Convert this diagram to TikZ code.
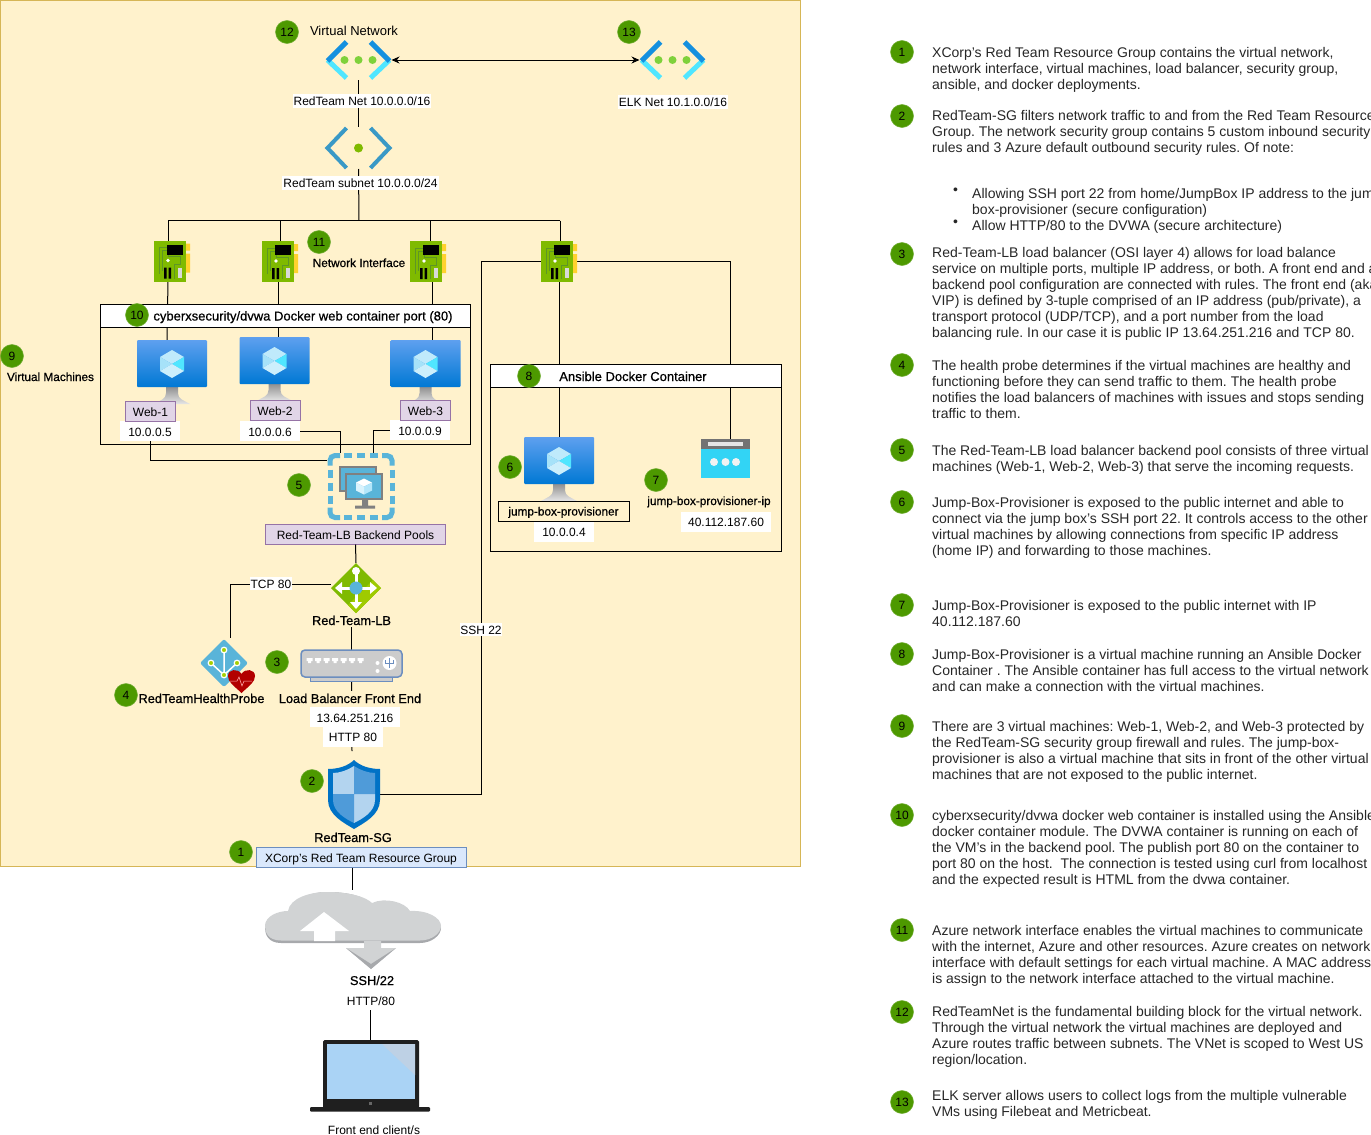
\documentclass[tikz,border=0pt]{standalone}
\usepackage{fontspec}
\setmainfont{Liberation Sans}
\newfontfamily\semibold[FakeBold=0.6]{Liberation Sans}
\usetikzlibrary{arrows.meta}
\definecolor{paneYellow}{HTML}{FFF2CC}
\definecolor{paneEdge}{HTML}{D6B656}
\definecolor{badgeGreen}{HTML}{4D9900}
\definecolor{lilacFill}{HTML}{E1D5E7}
\definecolor{lilacEdge}{HTML}{9673A6}
\definecolor{azureFill}{HTML}{DAE8FC}
\definecolor{azureEdge}{HTML}{6C8EBF}
\definecolor{skyBlue}{HTML}{59B4D9}
\definecolor{leafGreen}{HTML}{7FBA00}
\definecolor{darkLeaf}{HTML}{5E9624}
\definecolor{cloudGrey}{HTML}{D1D3D4}
\definecolor{cloudEdge}{HTML}{A7A9AC}
\definecolor{vnetDark}{HTML}{1490DF}
\definecolor{vnetLight}{HTML}{50E6FF}
\definecolor{vnetDot}{HTML}{7FD13B}
\definecolor{subnetBlue}{HTML}{3999C6}
\definecolor{nicYellow}{HTML}{FFD22E}
\definecolor{screenTop}{HTML}{5EA0EF}
\definecolor{screenLow}{HTML}{0078D4}
\definecolor{shieldBlue}{HTML}{0072C6}
\definecolor{shieldPale}{HTML}{B3D4EF}
\definecolor{shieldMid}{HTML}{4F9BD9}
\definecolor{ipCyan}{HTML}{32D4F5}
\definecolor{screenSky}{HTML}{AAD3F5}
\definecolor{screenGlare}{HTML}{BED1E5}
\tikzset{
  badge/.style={circle, fill=badgeGreen, draw=badgeGreen!80!white, line width=0.5pt, minimum size=23pt, inner sep=0pt, font=\fontsize{12}{12}\selectfont},
  iconbox/.style={inner sep=0pt, outer sep=0pt},
  wire/.style={line width=1pt, draw=black},
  panel/.style={draw=black, line width=1pt, inner sep=0pt},
  titlebar/.style={panel, fill=white, text height=11pt, text depth=1pt, font=\semibold\fontsize{13}{13}\selectfont},
  plain/.style={inner sep=0pt, text height=11pt, text depth=1pt, font=\fontsize{12}{12}\selectfont},
  strong/.style={plain, text height=10pt, text depth=2pt, font=\semibold\fontsize{12.8}{13}\selectfont},
  smallstrong/.style={plain, text height=10pt, text depth=2pt, font=\semibold\fontsize{11.8}{12}\selectfont},
  whitetag/.style={plain, fill=white, inner sep=1pt},
  iptag/.style={plain, fill=white, minimum width=60pt, minimum height=20pt},
  lilactag/.style={plain, fill=lilacFill, draw=lilacEdge, line width=1pt, minimum height=20pt},
  note/.style={anchor=north west, align=left, inner sep=0pt, text=black!85, font=\fontsize{14}{16}\selectfont},
  vmicon/.pic={
    \shade[top color=black!45, bottom color=black!10] (29,46) -- (41,46) -- (41,53) .. controls (41,59) and (46,60) .. (53,64) -- (17,64) .. controls (24,60) and (29,59) .. (29,53) -- cycle;
    \shade[rounded corners=1pt, top color=screenTop, bottom color=screenLow] (0,0) rectangle (70,47);
    \fill[cyan!25] (35,10) -- (47,17) -- (35,24) -- (23,17) -- cycle;
    \fill[vnetLight] (35,24) -- (47,17) -- (47,31) -- cycle;
    \fill[cyan!35!white] (35,24) -- (23,17) -- (23,31) -- cycle;
    \fill[cyan!20!white] (35,24) -- (47,31) -- (35,38) -- (23,31) -- cycle;
  },
  vneticon/.pic={
    \draw[line width=5pt, vnetLight] (-31,0) -- (-12,18) (31,0) -- (12,18);
    \draw[line width=5pt, vnetDark] (-31,1) -- (-12,-18) (31,1) -- (12,-18);
    \fill[vnetDot] (-14,0) circle (4) (0,0) circle (4) (14,0) circle (4);
  },
  subneticon/.pic={
    \draw[line width=4pt, subnetBlue, line join=miter] (-12,-20) -- (-31,0) -- (-12,20) (12,-20) -- (31,0) -- (12,20);
    \fill[leafGreen] (0,0) circle (4.5);
  },
  nicicon/.pic={
    \fill[leafGreen] (0,0) rectangle (32,41);
    \fill[nicYellow] (32,3) rectangle (36,10) (32,13) rectangle (36,32);
    \draw[darkLeaf, line width=1pt] (5,33) -- (5,7) -- (14,7) (8,30) -- (8,10) -- (14,10) -- (14,16) -- (26,16) -- (26,24) -- (20,24) -- (20,38);
    \fill[black] (13,4) rectangle (29,14);
    \fill[black] (10,27) rectangle (12.5,38) (14.5,27) rectangle (17,38);
    \fill[white] (14,20) circle (1.8);
    \fill[white!85!black] (24,27) rectangle (28,37);
  },
  poolicon/.pic={
    \draw[skyBlue, line width=5pt, rounded corners=5pt] (-31,-21) -- (-31,-31) -- (-21,-31) (21,-31) -- (31,-31) -- (31,-21) (31,21) -- (31,31) -- (21,31) (-21,31) -- (-31,31) -- (-31,21);
    \foreach \dashpos in {-17,-4,9} {
      \draw[skyBlue, line width=5pt] (\dashpos,-31) -- (\dashpos+8,-31) (\dashpos,31) -- (\dashpos+8,31);
      \draw[skyBlue, line width=5pt] (-31,\dashpos) -- (-31,\dashpos+8) (31,\dashpos) -- (31,\dashpos+8);
    }
    \fill[black!50] (-22,-21) rectangle (16,5);
    \fill[skyBlue] (-20,-19) rectangle (14,3);
    \fill[black!50] (-16,-14) rectangle (22,13);
    \fill[skyBlue] (-14,-12) rectangle (20,11);
    \fill[black!50] (1,13) rectangle (7,19) (-6,19) rectangle (14,22);
    \fill[white] (3,-8) -- (11,-4) -- (3,0) -- (-5,-4) -- cycle;
    \fill[cyan!30!white] (3,0) -- (11,-4) -- (11,4) -- (3,8) -- cycle;
    \fill[cyan!15!white] (3,0) -- (-5,-4) -- (-5,4) -- (3,8) -- cycle;
  },
  balancericon/.pic={
    \fill[leafGreen] (0,-25) -- (25,0) -- (0,25) -- (-25,0) -- cycle;
    \fill[leafGreen!75!yellow] (25,0) -- (0,25) -- (-8,17) -- (17,-8) -- cycle;
    \draw[white, line width=3pt] (-18,0) -- (18,0) (0,-17) -- (0,18);
    \fill[white] (-21,0) -- (-14,-6) -- (-14,6) -- cycle (21,0) -- (14,-6) -- (14,6) -- cycle (0,21) -- (-6,14) -- (6,14) -- cycle (0,-17) circle (4);
    \fill[skyBlue] (0,0) circle (6.5);
  },
  probeicon/.pic={
    \fill[skyBlue, rounded corners=2pt] (0,-24) -- (24,0) -- (0,24) -- (-24,0) -- cycle;
    \draw[white, line width=1.5pt] (0,-13) -- (0,12) (-13,0) -- (0,12) -- (13,0);
    \foreach \dotx/\doty in {0/-13,-13/0,13/0,0/12}
      \draw[white, fill=leafGreen!70!yellow, line width=1.2pt] (\dotx,\doty) circle (2.8);
    \fill[red!70!black] (17.5,30) .. controls (9,22) and (4,19) .. (4,13) .. controls (4,6) and (14,5) .. (17.5,11) .. controls (21,5) and (31,6) .. (31,13) .. controls (31,19) and (26,22) .. (17.5,30) -- cycle;
    \draw[red!30!white, line width=0.5pt] (6,18) -- (13,18) -- (15,14) -- (18,23) -- (20,18) -- (28,18);
  },
  fronticon/.pic={
    \draw[azureEdge, fill=black!20, line width=1pt] (-41,27) rectangle (41,31);
    \draw[azureEdge, fill=black!20, line width=1.5pt, rounded corners=4pt] (-50.5,0) rectangle (50.5,27);
    \foreach \portx in {-45,-36.5,...,14}
      \fill[white] (\portx,8) rectangle (\portx+6,11) (\portx+1.5,11) rectangle (\portx+4.5,13);
    \fill[white] (26,13) circle (2) (26,21) circle (2) (38,13) circle (7);
    \draw[azureEdge, line width=1pt] (38,8) -- (38,18) (34,10) -- (34,13) -- (42,13) -- (42,10);
  },
  shieldicon/.pic={
    \fill[shieldBlue] (0,0) .. controls (6,6) and (16,9) .. (26,9) -- (26,40) .. controls (26,55) and (10,63) .. (0,69) .. controls (-10,63) and (-26,55) .. (-26,40) -- (-26,9) .. controls (-16,9) and (-6,6) .. (0,0) -- cycle;
    \begin{scope}
      \clip (0,6) .. controls (6,10) and (14,13) .. (21,13) -- (21,40) .. controls (21,52) and (8,59) .. (0,63) .. controls (-8,59) and (-21,52) .. (-21,40) -- (-21,13) .. controls (-14,13) and (-6,10) .. (0,6) -- cycle;
      \fill[shieldPale] (-26,0) rectangle (0,34) (0,34) rectangle (26,69);
      \fill[shieldMid] (0,0) rectangle (26,34) (-26,34) rectangle (0,69);
    \end{scope}
  },
  publicipicon/.pic={
    \fill[ipCyan] (0,0) rectangle (49,39);
    \fill[black!55] (0,0) rectangle (49,10);
    \fill[black!10] (7,3) rectangle (42,7);
    \fill[black!5] (13,23) circle (4) (24.5,23) circle (4) (35,23) circle (4);
  },
  cloudicon/.pic={
    \path[fill=cloudEdge] (281,943) .. controls (268,943) and (265,934) .. (265,928) .. controls (265,918) and (278,913) .. (288,913) .. controls (290,900) and (310,892) .. (327,892) .. controls (350,892) and (366,897) .. (372,905) .. controls (385,899) and (405,904) .. (410,913) .. controls (428,912) and (441,920) .. (441,928) .. controls (441,935) and (432,943) .. (420,943) -- cycle;
    \path[fill=cloudGrey] (281,940.5) .. controls (268,940.5) and (265,932) .. (265,926) .. controls (265,916) and (278,911) .. (288,911) .. controls (290,898) and (310,892) .. (327,892) .. controls (350,892) and (366,897) .. (372,903) .. controls (385,897) and (405,902) .. (410,911) .. controls (428,910) and (441,918) .. (441,926) .. controls (441,933) and (432,940.5) .. (420,940.5) -- cycle;
    \fill[white] (324,912) -- (349,931) -- (335,931) -- (335,941) -- (314,941) -- (314,931) -- (300,931) -- cycle;
    \fill[cloudGrey] (346,948) -- (364,948) -- (364,941) -- (381,941) -- (381,948) -- (396,948) -- (371,969) -- cycle;
    \fill[cloudEdge] (346,948) -- (371,969) -- (396,948) -- (371,964) -- cycle;
  },
  laptopicon/.pic={
    \fill[black!88, rounded corners=1.5pt] (323,1040) rectangle (419,1108);
    \fill[black!88, rounded corners=1pt] (310,1107) rectangle (430,1111.5);
    \fill[screenSky] (327,1044) rectangle (415,1099);
    \fill[screenGlare] (382,1044) -- (415,1044) -- (415,1075) -- cycle;
    \fill[black!60] (368.5,1102) rectangle (371.5,1105);
  },
}
\begin{document}
\frenchspacing
\begin{tikzpicture}[x=1pt, y=-1pt]
  \useasboundingbox (0,0) rectangle (1371,1135);

  % pane behind the network
  \node[iconbox, fill=paneYellow, draw=paneEdge, line width=1pt, minimum width=800pt, minimum height=866pt] (pane) at (400.5,433.5) {};

  % places of the icons
  \node[iconbox, minimum width=66pt, minimum height=40pt] (redNet) at (358.5,60) {};
  \node[iconbox, minimum width=66pt, minimum height=40pt] (elkNet) at (672.5,60) {};
  \node[iconbox, minimum width=66pt, minimum height=42pt] (subnet) at (358.5,148) {};
  \coordinate (busLeft) at (168,220.5);
  \coordinate (busMid) at (359,220.5);
  \coordinate (busRight) at (560,220.5);
  \coordinate (tapWebTwo) at (280,220.5);
  \coordinate (tapWebThree) at (430,220.5);
  \node[iconbox, minimum width=36pt, minimum height=41pt] (nicOne) at (172,261) {};
  \node[iconbox, minimum width=36pt, minimum height=41pt] (nicTwo) at (280,261.5) {};
  \node[iconbox, minimum width=36pt, minimum height=41pt] (nicThree) at (428,261.5) {};
  \node[iconbox, minimum width=36pt, minimum height=41pt] (nicFour) at (559,261.5) {};
  \node[iconbox, minimum width=70pt, minimum height=64pt] (vmOne) at (172,372) {};
  \node[iconbox, minimum width=70pt, minimum height=64pt] (vmTwo) at (274.5,369) {};
  \node[iconbox, minimum width=70pt, minimum height=64pt] (vmThree) at (425.5,372) {};
  \node[iconbox, minimum width=70pt, minimum height=64pt] (vmJump) at (559,469) {};
  \node[iconbox, minimum width=49pt, minimum height=39pt] (jumpIp) at (725.5,458.5) {};
  \node[iconbox, minimum width=68pt, minimum height=68pt] (pool) at (361,486.5) {};
  \node[iconbox, minimum width=50pt, minimum height=50pt] (balancer) at (356,588) {};
  \node[iconbox, minimum width=50pt, minimum height=50pt] (probe) at (224,663) {};
  \node[iconbox, minimum width=101pt, minimum height=32pt] (frontEnd) at (351.5,666) {};
  \node[iconbox, minimum width=52pt, minimum height=69pt] (shield) at (354,794.5) {};
  \coordinate (frontEndTail) at (352,751);
  \node[iconbox, minimum width=176pt, minimum height=78pt] (cloud) at (353,930) {};
  \node[iconbox, minimum width=96pt, minimum height=68pt] (laptop) at (370,1075) {};
  \node[lilactag, minimum width=180pt] (poolTag) at (355.5,534) {Red-Team-LB Backend Pools};
  \node[iptag] (ipOne) at (150,431) {10.0.0.5};
  \node[iptag] (ipTwo) at (270,431) {10.0.0.6};
  \node[iptag] (ipThree) at (420,430) {10.0.0.9};
  \node[strong, fill=paneYellow] (balancerName) at (351.5,621) {Red-Team-LB};
  \node[plain, minimum width=210pt, minimum height=20pt, fill=azureFill, draw=azureEdge, line width=1pt] (groupTag) at (361,857) {XCorp's Red Team Resource Group};

  % connectors
  \draw[wire, {Stealth[length=8pt,width=7pt]}-{Stealth[length=8pt,width=7pt]}] (redNet.east) -- (elkNet.west);
  \draw[wire] (redNet.south) -- (subnet.north);
  \draw[wire] (subnet.south) -- (busMid);
  \draw[wire] (busLeft) -- (busRight);
  \draw[wire] (busLeft) -- (busLeft |- nicOne.north);
  \draw[wire] (tapWebTwo) -- (nicTwo.north);
  \draw[wire] (tapWebThree) -- (tapWebThree |- nicThree.north);
  \draw[wire] (busRight) -- (busRight |- nicFour.north);
  \draw[wire] ([xshift=-4pt]nicOne.south) -- ([xshift=-5pt]vmOne.north);
  \draw[wire] ([xshift=-2pt]nicTwo.south) -- ([xshift=3.5pt]vmTwo.north);
  \draw[wire] ([xshift=4pt]nicThree.south) -- ([xshift=6.5pt]vmThree.north);
  \draw[wire] (nicFour.south) -- (vmJump.north);
  \draw[wire] (nicFour.east) -| (jumpIp.north -| 730,0) -- (jumpIp.north);
  \draw[wire] (nicFour.west) -- (481,261.5) |- (shield.east);
  \draw[wire] (ipTwo.east) -- ([xshift=-21pt]pool.north |- ipTwo.east) -- ([xshift=-21pt]pool.north);
  \draw[wire] (ipThree.west) -- ([xshift=12pt]pool.north |- ipThree.west) -- ([xshift=12pt]pool.north);
  \draw[wire] (ipOne.south) |- ([yshift=26pt]pool.west);
  \draw[wire] (poolTag.south) -- (balancer.north);
  \draw[wire] ([yshift=4pt]balancer.west) -| ([xshift=6pt]probe.north);
  \draw[wire] (balancerName.south) -- (frontEnd.north);
  \draw[wire] (frontEnd.south) -- (frontEndTail);
  \draw[wire] (groupTag.south -| 352.5,0) -- (352.5,890);
  \draw[wire] (370,1010) -- (laptop.north);

  % boxes round the machines
  \node[panel, minimum width=370pt, minimum height=140pt] (webBox) at (285,374) {};
  \node[titlebar, minimum width=370pt, minimum height=23pt] (webTitle) at (285,315.5) {\hspace*{36pt}cyberxsecurity/dvwa Docker web container port (80)};
  \node[panel, minimum width=291pt, minimum height=187pt] (ansibleBox) at (635.5,457.5) {};
  \node[titlebar, minimum width=291pt, minimum height=23pt] (ansibleTitle) at (635.5,376) {\hspace*{-5pt}Ansible Docker Container};

  % icons
  \pic at (redNet) {vneticon};
  \pic at (elkNet) {vneticon};
  \pic at (subnet) {subneticon};
  \pic at (nicOne.north west) {nicicon};
  \pic at (nicTwo.north west) {nicicon};
  \pic at (nicThree.north west) {nicicon};
  \pic at (nicFour.north west) {nicicon};
  \pic at (vmOne.north west) {vmicon};
  \pic at (vmTwo.north west) {vmicon};
  \pic at (vmThree.north west) {vmicon};
  \pic at (vmJump.north west) {vmicon};
  \pic at (jumpIp.north west) {publicipicon};
  \pic at (pool) {poolicon};
  \pic at (balancer) {balancericon};
  \pic at (probe) {probeicon};
  \pic at (frontEnd.north) {fronticon};
  \pic at (shield.north) {shieldicon};
  \pic at (0,0) {cloudicon};
  \pic at (0,0) {laptopicon};

  % labels of the network
  \node[plain, font=\fontsize{13}{13}\selectfont] (vnetName) at (354,30.5) {Virtual Network};
  \node[whitetag] (redNetName) at (362,100.5) {RedTeam Net 10.0.0.0/16};
  \node[whitetag] (elkNetName) at (673,101.5) {ELK Net 10.1.0.0/16};
  \node[whitetag] (subnetName) at (360.5,182.5) {RedTeam subnet 10.0.0.0/24};
  \node[smallstrong] (nicName) at (359,263) {Network Interface};
  \node[smallstrong] (vmName) at (50.5,377) {Virtual Machines};
  \node[lilactag, minimum width=50pt] (webOne) at (150.5,411) {Web-1};
  \node[lilactag, minimum width=50pt] (webTwo) at (275,410) {Web-2};
  \node[lilactag, minimum width=50pt] (webThree) at (425.5,410.5) {Web-3};
  \node[smallstrong, draw=black, fill=paneYellow, line width=1pt, minimum width=131pt, minimum height=20pt] (jumpName) at (563.5,511.5) {jump-box-provisioner};
  \node[iptag] (ipJump) at (564,531.5) {10.0.0.4};
  \node[smallstrong] (jumpIpName) at (709,501) {jump-box-provisioner-ip};
  \node[iptag, minimum width=90pt] (ipPublic) at (726,521.5) {40.112.187.60};
  \node[whitetag, inner sep=0.5pt] (tcpTag) at (271,583.5) {TCP 80};
  \node[whitetag, inner sep=0.5pt] (sshTag) at (481,629.5) {SSH 22};
  \node[strong] (probeName) at (201.5,699) {RedTeamHealthProbe};
  \node[strong, fill=paneYellow, minimum height=16pt] (frontName) at (350,699) {Load Balancer Front End};
  \node[iptag, minimum width=90pt] (frontIp) at (355,717) {13.64.251.216};
  \node[iptag] (frontPort) at (353,736.5) {HTTP 80};
  \node[strong] (shieldName) at (353,838) {RedTeam-SG};
  \node[strong] (sshName) at (372,981) {SSH/22};
  \node[plain] (httpName) at (371,1000.5) {HTTP/80};
  \node[plain] (clientName) at (374,1129.5) {Front end client/s};

  % number marks on the network
  \node[badge] (markTwelve) at (287,32) {12};
  \node[badge] (markThirteen) at (629,32) {13};
  \node[badge] (markEleven) at (319,242) {11};
  \node[badge] (markTen) at (137,315) {10};
  \node[badge] (markNine) at (12,356) {9};
  \node[badge] (markEight) at (529,376) {8};
  \node[badge] (markSix) at (510,467) {6};
  \node[badge] (markSeven) at (656,480) {7};
  \node[badge] (markFive) at (299,485) {5};
  \node[badge] (markThree) at (277,662) {3};
  \node[badge] (markFour) at (126,695) {4};
  \node[badge] (markTwo) at (312,781) {2};
  \node[badge] (markOne) at (241,852) {1};

  % number marks of the notes
  \node[badge] (keyOne) at (902,52) {1};
  \node[badge] (keyTwo) at (902,116) {2};
  \node[badge] (keyThree) at (902,254) {3};
  \node[badge] (keyFour) at (902,365) {4};
  \node[badge] (keyFive) at (902,450) {5};
  \node[badge] (keySix) at (902,502) {6};
  \node[badge] (keySeven) at (902,605) {7};
  \node[badge] (keyEight) at (902,654) {8};
  \node[badge] (keyNine) at (902,726) {9};
  \node[badge] (keyTen) at (902,815) {10};
  \node[badge] (keyEleven) at (902,930) {11};
  \node[badge] (keyTwelve) at (902,1012) {12};
  \node[badge] (keyThirteen) at (902,1102) {13};

  % notes
  \node[note] (noteOne) at (932,47) {XCorp's Red Team Resource Group contains the virtual network,\\network interface, virtual machines, load balancer, security group,\\ansible, and docker deployments.};
  \node[note] (noteTwo) at (932,110) {RedTeam-SG filters network traffic to and from the Red Team Resource\\Group. The network security group contains 5 custom inbound security\\rules and 3 Azure default outbound security rules. Of note:};
  \node[note] (noteBullets) at (972,188) {Allowing SSH port 22 from home/JumpBox IP address to the jump-\\box-provisioner (secure configuration)\\Allow HTTP/80 to the DVWA (secure architecture)};
  \node[note] (bulletOne) at (953,188) {•};
  \node[note] (bulletTwo) at (953,220) {•};
  \node[note] (noteThree) at (932,247) {Red-Team-LB load balancer (OSI layer 4) allows for load balance\\service on multiple ports, multiple IP address, or both. A front end and a\\backend pool configuration are connected with rules. The front end (aka\\VIP) is defined by 3-tuple comprised of an IP address (pub/private), a\\transport protocol (UDP/TCP), and a port number from the load\\balancing rule. In our case it is public IP 13.64.251.216 and TCP 80.};
  \node[note] (noteFour) at (932,360) {The health probe determines if the virtual machines are healthy and\\functioning before they can send traffic to them. The health probe\\notifies the load balancers of machines with issues and stops sending\\traffic to them.};
  \node[note] (noteFive) at (932,445) {The Red-Team-LB load balancer backend pool consists of three virtual\\machines (Web-1, Web-2, Web-3) that serve the incoming requests.};
  \node[note] (noteSix) at (932,497) {Jump-Box-Provisioner is exposed to the public internet and able to\\connect via the jump box's SSH port 22. It controls access to the other\\virtual machines by allowing connections from specific IP address\\(home IP) and forwarding to those machines.};
  \node[note] (noteSeven) at (932,600) {Jump-Box-Provisioner is exposed to the public internet with IP\\40.112.187.60};
  \node[note] (noteEight) at (932,649) {Jump-Box-Provisioner is a virtual machine running an Ansible Docker\\Container . The Ansible container has full access to the virtual network\\and can make a connection with the virtual machines.};
  \node[note] (noteNine) at (932,721) {There are 3 virtual machines: Web-1, Web-2, and Web-3 protected by\\the RedTeam-SG security group firewall and rules. The jump-box-\\provisioner is also a virtual machine that sits in front of the other virtual\\machines that are not exposed to the public internet.};
  \node[note] (noteTen) at (932,810) {cyberxsecurity/dvwa docker web container is installed using the Ansible\\docker container module. The DVWA container is running on each of\\the VM's in the backend pool. The publish port 80 on the container to\\port 80 on the host.\ \ The connection is tested using curl from localhost\\and the expected result is HTML from the dvwa container.};
  \node[note] (noteEleven) at (932,925) {Azure network interface enables the virtual machines to communicate\\with the internet, Azure and other resources. Azure creates on network\\interface with default settings for each virtual machine. A MAC address\\is assign to the network interface attached to the virtual machine.};
  \node[note] (noteTwelve) at (932,1006) {RedTeamNet is the fundamental building block for the virtual network.\\Through the virtual network the virtual machines are deployed and\\Azure routes traffic between subnets. The VNet is scoped to West US\\region/location.};
  \node[note] (noteThirteen) at (932,1090) {ELK server allows users to collect logs from the multiple vulnerable\\VMs using Filebeat and Metricbeat.};
\end{tikzpicture}
\end{document}
